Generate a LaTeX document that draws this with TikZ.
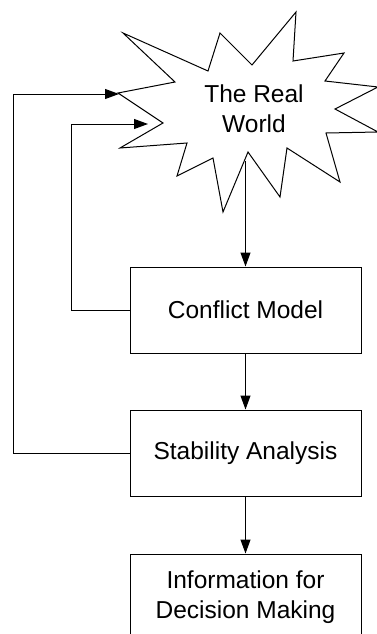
\documentclass[tikz,border=0pt]{standalone}
\usepackage{fontspec}
\setmainfont{Liberation Sans}
\usetikzlibrary{arrows.meta}
\begin{document}
\begin{tikzpicture}[x=1pt,y=-1pt,line width=1pt,
  flow/.style={-{Triangle[length=14pt,width=10pt]}},
  label/.style={font=\fontsize{24.5}{30}\selectfont, align=center},
  block/.style={draw, label, minimum width=231pt, minimum height=86pt, inner sep=0pt}]
\useasboundingbox (0,0) rectangle (377,634);
\clip (0,0) rectangle (377,634);

% explosion outline
\draw (123,33) -- (208,71) -- (220,33) -- (252,65) -- (296,12) -- (293,61)
  -- (344,53) -- (325,81) -- (378,87) -- (335,109) -- (378,132) -- (326,133)
  -- (340,182) -- (287,148) -- (280,197) -- (248,152) -- (223,212) -- (213,158)
  -- (177,176) -- (187,143) -- (120,148) -- (163,123) -- (118,93) -- (175,82)
  -- cycle;
\node[label] (world) at (254,109) {The Real\\World};
\coordinate (wout) at (245.5,161);
\coordinate (in1) at (119,94);
\coordinate (in2) at (148,124);

% process boxes
\node[block] (cm) at (245.5,310) {Conflict Model};
\node[block] (sa) at (245.5,453) {Stability Analysis};
\node[block] (info) at (245.5,597) {Information for\\Decision Making};

% forward flow
\draw[flow] (wout) -- (cm.north);
\draw[flow] (cm) -- (sa);
\draw[flow] (sa) -- (info);

% feedback loops
\draw[flow] (cm.west) -- ++(-58,0) |- (in2);
\draw[flow] (sa.west) -- ++(-116,0) |- (in1);
\end{tikzpicture}
\end{document}
